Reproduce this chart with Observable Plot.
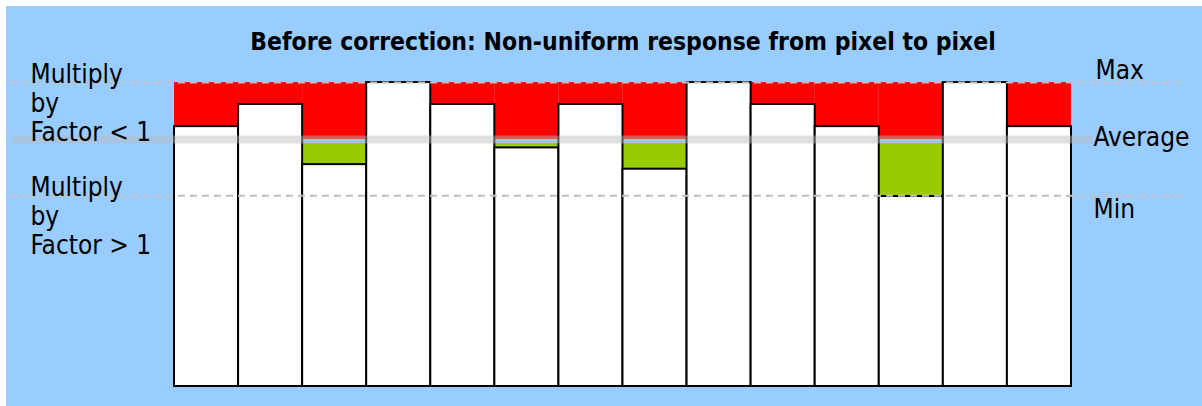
<!DOCTYPE html>
<html>
<head>
<meta charset="utf-8">
<script src="https://cdn.jsdelivr.net/npm/d3@7"></script>
<script src="https://cdn.jsdelivr.net/npm/@observablehq/plot@0.6"></script>
<style>
  html, body { margin: 0; padding: 0; background: #ffffff; }
  #wrap { position: relative; width: 1202px; height: 406px; overflow: hidden; }
  #bg { position: absolute; left: 6px; top: 6px; width: 1196px; height: 400px; background: #99ccff; }
  #chart { position: absolute; left: 0; top: 0; }
  #chart svg { background: transparent; }
</style>
</head>
<body>
<div id="wrap"><div id="bg"></div><div id="chart"></div></div>
<script>
// Data
const pixels = [1, 2, 3, 4, 5, 6, 7, 8, 9, 10, 11, 12, 13, 14];
const response = [85.5, 92.8, 73.0, 100, 92.8, 78.5, 92.8, 71.5, 100, 92.8, 85.5, 62.5, 100, 85.5];
const maxLevel = 100;
const avgLevel = 81.3;
const minLevel = 62.8;
const titleText = "Before correction: Non-uniform response from pixel to pixel";
const leftLabels = ["Multiply\nby\nFactor < 1", "Multiply\nby\nFactor > 1"];
const rightLabels = ["Max", "Average", "Min"];

const rows = pixels.map((p, i) => ({pixel: p, value: response[i]}));
const above = rows.map(d => ({pixel: d.pixel, lo: Math.max(d.value, avgLevel), hi: maxLevel}));
const below = rows.filter(d => d.value < avgLevel).map(d => ({pixel: d.pixel, lo: d.value, hi: avgLevel}));

const FONT = "'DejaVu Sans Condensed', 'DejaVu Sans', sans-serif";

const chart = Plot.plot({
  width: 1202,
  height: 406,
  marginLeft: 10,
  marginRight: 21,
  marginTop: 0,
  marginBottom: 20,
  style: {background: "transparent", fontFamily: FONT, overflow: "visible"},
  x: {type: "band", domain: pixels, paddingInner: 0, paddingOuter: 2.1385, align: 0.5985, round: false, axis: null},
  y: {domain: [0, 127], axis: null},
  marks: [
    Plot.rectY(above, {x: "pixel", y1: "lo", y2: "hi", fill: "#ff0000", inset: 0}),
    Plot.rectY(below, {x: "pixel", y1: "lo", y2: "hi", fill: "#99cc00", inset: 0, insetTop: 4}),
    Plot.rectY(rows, {x: "pixel", y: "value", fill: "#ffffff", stroke: "#000000", strokeWidth: 2, inset: 0}),
    Plot.ruleY([avgLevel], {stroke: "#bbbbbb", strokeOpacity: 0.45, strokeWidth: 8, insetLeft: 2, insetRight: 88}),
    Plot.ruleY([maxLevel, minLevel], {stroke: "#c0c0c0", strokeWidth: 2, strokeDasharray: "7,5"}),
    Plot.text([titleText], {frameAnchor: "top", dx: 27, dy: 42, lineAnchor: "middle", text: d => d,
      fontSize: 24.5, fontWeight: "bold", fill: "#000000"}),
    Plot.text([{t: leftLabels[0], y: maxLevel}, {t: leftLabels[1], y: minLevel}],
      {y: "y", text: "t", frameAnchor: "left", dx: 20, dy: -20.5, textAnchor: "start", lineAnchor: "top",
       lineHeight: 1.115, fontSize: 26, fill: "#000000"}),
    Plot.text([{t: rightLabels[0], y: maxLevel}],
      {y: "y", text: "t", frameAnchor: "right", dx: -86, dy: -12, textAnchor: "start", lineAnchor: "middle",
       fontSize: 26, fill: "#000000"}),
    Plot.text([{t: rightLabels[1], y: avgLevel}],
      {y: "y", text: "t", frameAnchor: "right", dx: -88, dy: -2, textAnchor: "start", lineAnchor: "middle",
       fontSize: 26, fill: "#000000"}),
    Plot.text([{t: rightLabels[2], y: minLevel}],
      {y: "y", text: "t", frameAnchor: "right", dx: -88, dy: 14, textAnchor: "start", lineAnchor: "middle",
       fontSize: 26, fill: "#000000"})
  ]
});
document.getElementById("chart").appendChild(chart);
</script>
</body>
</html>
